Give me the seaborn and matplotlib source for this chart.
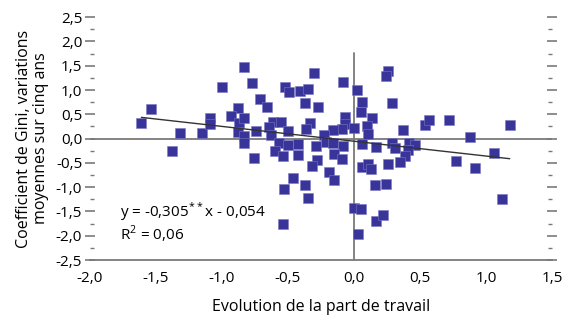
import numpy as np
import pandas as pd
import matplotlib
matplotlib.use("Agg")
import matplotlib.pyplot as plt
import seaborn as sns
from matplotlib.ticker import MultipleLocator, FuncFormatter

# ---- data ----
labour_share_change = [
    -1.61, -1.54, -1.32, -1.38, -1.15, -1.09, -1.09, -1.00, -0.83, -0.77,
    -0.88, -0.93, -0.87, -0.83, -0.88, -0.83, -0.83, -0.74, -0.76, -0.71,
    -0.66, -0.52, -0.49, -0.41, -0.35, -0.30, -0.37, -0.27, -0.08, 0.02,
    0.06, 0.05, 0.14, -0.61, -0.55, -0.64, -0.63, -0.50, -0.33, -0.36,
    -0.07, -0.07, -0.09, -0.16, -0.23, 0.00, 0.10, 0.11, -0.57, -0.60,
    -0.50, -0.42, -0.42, -0.54, -0.29, -0.21, -0.16, -0.08, -0.15, -0.09,
    -0.28, -0.32, 0.06, 0.17, 0.06, 0.11, -0.19, -0.15, -0.46, -0.37,
    -0.53, -0.35, -0.54, 0.00, 0.05, 0.03, 0.13, 0.16, 0.24, 0.17,
    0.22, 0.26, 0.24, 0.29, 0.37, 0.54, 0.57, 0.72, 1.18, 0.88,
    0.29, 0.31, 0.42, 0.46, 0.41, 0.39, 0.35, 0.26, 0.77, 0.92,
    1.06, 1.12,
]
gini_change = [
    0.32, 0.61, 0.11, -0.25, 0.11, 0.42, 0.30, 1.06, 1.47, 1.14,
    0.63, 0.46, 0.33, 0.42, 0.14, 0.06, -0.10, 0.16, -0.40, 0.82,
    0.65, 1.06, 0.96, 0.97, 1.02, 1.36, 0.73, 0.65, 1.16, 1.00,
    0.76, 0.54, 0.42, 0.35, 0.35, 0.23, 0.08, 0.15, 0.33, 0.20,
    0.45, 0.31, 0.20, 0.18, 0.07, 0.21, 0.26, 0.10, -0.10, -0.25,
    -0.14, -0.12, -0.33, -0.36, -0.16, -0.06, -0.10, -0.16, -0.31, -0.43,
    -0.45, -0.57, -0.11, -0.17, -0.58, -0.53, -0.69, -0.85, -0.81, -0.96,
    -1.04, -1.22, -1.76, -1.42, -1.45, -1.97, -0.63, -0.96, -0.94, -1.69,
    -1.57, 1.39, 1.29, 0.73, 0.18, 0.27, 0.38, 0.38, 0.27, 0.03,
    -0.09, -0.20, -0.10, -0.14, -0.24, -0.36, -0.49, -0.53, -0.47, -0.61,
    -0.29, -1.25,
]
fit_slope = -0.305
fit_intercept = -0.054
eq_text = "y = -0,305$^{**}$x - 0,054"
r2_text = "R$^{2}$ = 0,06"
x_label = "Evolution de la part de travail"
y_label = "Coefficient de Gini, variations\nmoyennes sur cinq ans"

df = pd.DataFrame({"x": labour_share_change, "y": gini_change})

sns.set_style("white")
plt.rcParams["font.family"] = ["Open Sans", "DejaVu Sans"]
plt.rcParams["mathtext.fontset"] = "custom"
plt.rcParams["mathtext.rm"] = "Open Sans"
plt.rcParams["text.color"] = "black"
plt.rcParams["axes.labelcolor"] = "black"
plt.rcParams["xtick.labelcolor"] = "black"
plt.rcParams["ytick.labelcolor"] = "black"

fig = plt.figure(figsize=(5.65, 3.30), dpi=100)
ax = fig.add_axes([0.159, 0.212, 0.818, 0.736])

grey = "#7a7a7a"
# reference lines
ax.axhline(0, color=grey, lw=1.3, zorder=1)
ax.plot([0, 0], [-2.5, 1.76], color=grey, lw=1.3, zorder=1)

sns.scatterplot(data=df, x="x", y="y", marker="s", s=56, color="#38349a",
                edgecolor="#7a77c4", linewidth=0.4, ax=ax, zorder=3)

xs = np.array([min(labour_share_change), max(labour_share_change)])
ax.plot(xs, fit_slope * xs + fit_intercept, color="#333333", lw=1.0, zorder=4)

ax.set_xlim(-2.0, 1.5)
ax.set_ylim(-2.5, 2.5)

fmt = FuncFormatter(lambda v, p: f"{v:.1f}".replace(".", ","))
ax.xaxis.set_major_locator(MultipleLocator(0.5))
ax.yaxis.set_major_locator(MultipleLocator(0.5))
ax.yaxis.set_minor_locator(MultipleLocator(0.25))
ax.xaxis.set_major_formatter(fmt)
ax.yaxis.set_major_formatter(fmt)

for s in ["top", "left", "right"]:
    ax.spines[s].set_visible(False)
ax.spines["bottom"].set_color(grey)
ax.spines["bottom"].set_linewidth(1.3)

ax.tick_params(axis="x", direction="in", length=6, width=1.2, color=grey,
               labelsize=11, pad=8)
ax.tick_params(axis="y", which="major", direction="inout", length=7, width=1.2,
               color=grey, labelsize=11, right=True, left=True, pad=2)
ax.tick_params(axis="y", which="minor", direction="in", length=3, width=1.0,
               color=grey, right=True, left=True)

ax.text(-1.77, -1.50, eq_text, fontsize=11, va="center", ha="left")
ax.text(-1.77, -1.97, r2_text, fontsize=11, va="center", ha="left")

ax.set_xlabel(x_label, fontsize=11.5, labelpad=9)
ax.set_ylabel(y_label, fontsize=11.5, labelpad=5, linespacing=1.1)

fig.savefig("out.png", dpi=100)
